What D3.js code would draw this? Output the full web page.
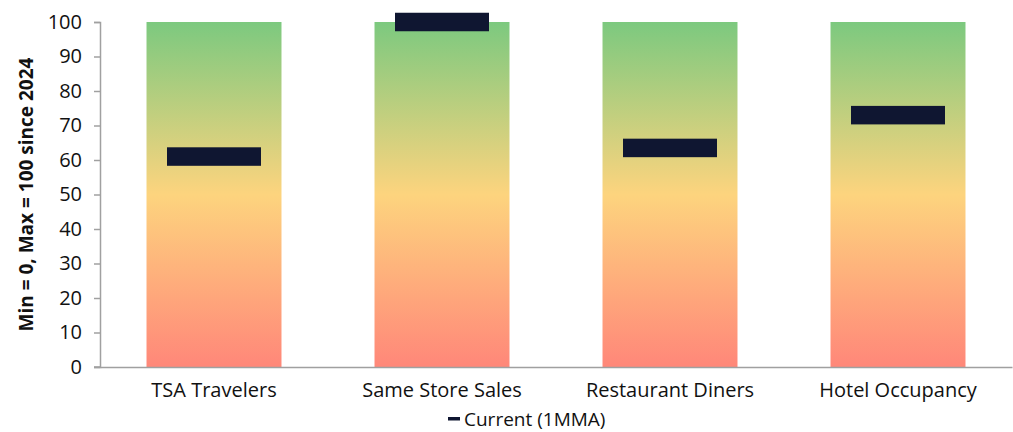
<!DOCTYPE html>
<html>
<head>
<meta charset="utf-8">
<script src="https://cdn.jsdelivr.net/npm/d3@7"></script>
<style>
  body { margin: 0; background: #fff; }
  text { font-family: "Open Sans", Roboto, sans-serif; fill: #111; }
</style>
</head>
<body>
<div id="chart"></div>
<script>
// categories and current readings (0 = min, 100 = max since 2024)
const categories = ["TSA Travelers", "Same Store Sales", "Restaurant Diners", "Hotel Occupancy"];
const currentValues = [61, 100, 63.5, 73];
const yTicks = [0, 10, 20, 30, 40, 50, 60, 70, 80, 90, 100];

const W = 1013, H = 432;
const margin = { top: 22, right: 1, bottom: 65, left: 100 };

const svg = d3.select("#chart").append("svg")
  .attr("width", W).attr("height", H);

const x = d3.scaleBand()
  .domain(categories)
  .range([margin.left, W - margin.right])
  .paddingInner(0.408)
  .paddingOuter(0.204);

const y = d3.scaleLinear()
  .domain([0, 100])
  .range([H - margin.bottom, margin.top]);

// vertical red -> yellow -> green gradient, same for every bar
const grad = svg.append("defs").append("linearGradient")
  .attr("id", "heat")
  .attr("gradientUnits", "userSpaceOnUse")
  .attr("x1", 0).attr("x2", 0)
  .attr("y1", y(0)).attr("y2", y(100));
grad.append("stop").attr("offset", "0%").attr("stop-color", "#ff8779");
grad.append("stop").attr("offset", "50%").attr("stop-color", "#fdd47e");
grad.append("stop").attr("offset", "100%").attr("stop-color", "#7cc97f");

// bars
svg.append("g").selectAll("rect")
  .data(categories)
  .enter().append("rect")
  .attr("x", d => x(d))
  .attr("y", y(100))
  .attr("width", x.bandwidth())
  .attr("height", y(0) - y(100))
  .attr("fill", "url(#heat)");

// y axis
const yAxis = svg.append("g")
  .attr("transform", "translate(" + margin.left + ",0)")
  .call(d3.axisLeft(y).tickValues(yTicks).tickSize(6).tickPadding(12));
yAxis.select(".domain").attr("stroke", "#a0a0a0").attr("stroke-width", 1.5);
yAxis.selectAll(".tick line").attr("stroke", "#a0a0a0").attr("stroke-width", 1.5);
yAxis.selectAll(".tick text").style("font-size", "20px").attr("fill", "#111");

// x axis
const xAxis = svg.append("g")
  .attr("transform", "translate(0," + y(0) + ")")
  .call(d3.axisBottom(x).tickSize(0).tickPadding(16));
xAxis.select(".domain").attr("stroke", "#a0a0a0").attr("stroke-width", 1.5);
xAxis.selectAll(".tick text").style("font-size", "20px").attr("fill", "#111");
svg.append("line")
  .attr("x1", margin.left - 6).attr("x2", margin.left)
  .attr("y1", y(0)).attr("y2", y(0))
  .attr("stroke", "#a0a0a0").attr("stroke-width", 1.5);

// current markers
const markW = 94, markH = 18.5;
svg.append("g").selectAll("rect")
  .data(categories)
  .enter().append("rect")
  .attr("x", d => x(d) + x.bandwidth() / 2 - markW / 2)
  .attr("y", (d, i) => y(currentValues[i]) - markH / 2)
  .attr("width", markW)
  .attr("height", markH)
  .attr("fill", "#0f1631");

// y axis title
svg.append("text")
  .attr("transform", "translate(33," + (y(50)) + ") rotate(-90)")
  .attr("text-anchor", "middle")
  .style("font-size", "19px")
  .style("font-weight", "bold")
  .text("Min = 0, Max = 100 since 2024");

// legend
const lg = svg.append("g").attr("transform", "translate(448,419)");
lg.append("rect").attr("x", 0).attr("y", -2).attr("width", 12).attr("height", 3.5).attr("fill", "#0f1631");
lg.append("text").attr("x", 16).attr("y", 6.5).style("font-size", "19px").text("Current (1MMA)");
</script>
</body>
</html>
